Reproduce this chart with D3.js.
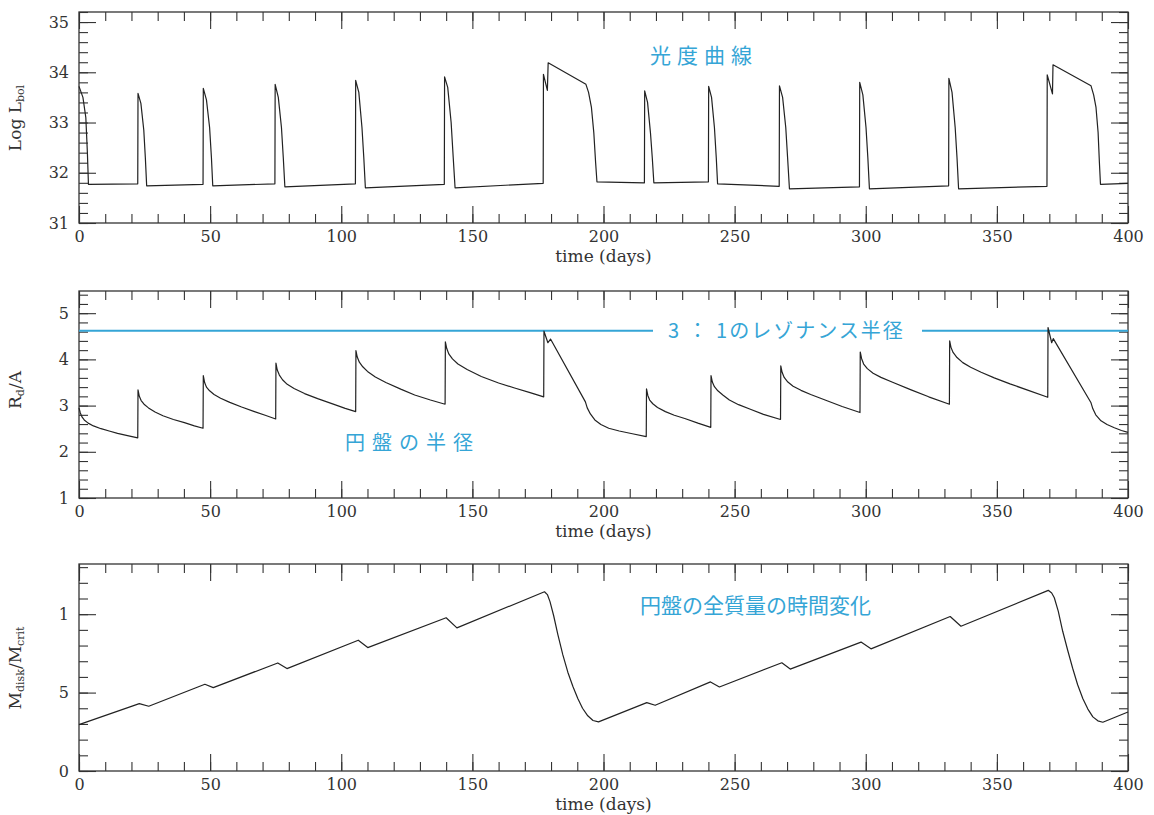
<!DOCTYPE html>
<meta charset="utf-8">
<head>
    <title>Outburst light curve, disk radius and disk mass</title>
</head>
<style>
    body { margin: 0; background: #fff; }
    .axis text { font-family: "DejaVu Serif", serif; font-size: 16px; fill: #333; }
    .axis line { stroke: #333; stroke-width: 1.1; }
    .axis path { display: none; }
    .frame { fill: none; stroke: #333; stroke-width: 1.3; }
    .curve { fill: none; stroke: #222; stroke-width: 1.2; stroke-linejoin: round; }
    .xtitle, .ytitle { font-family: "DejaVu Serif", serif; font-size: 17px; fill: #333; }
    .note { font-family: "Noto Sans CJK JP", sans-serif; fill: #35a5d6; }
</style>
<body>
<svg width="1154" height="815"></svg>

<script src="https://cdnjs.cloudflare.com/ajax/libs/d3/7.8.5/d3.min.js"></script>
<script>
// time axis (days)
var timeTicks = [0, 50, 100, 150, 200, 250, 300, 350, 400]

// panel 1: log of bolometric luminosity, [day, value]
var lightCurve = [
    [0, 33.72], [1.5, 33.5], [2.6, 33.1], [3.2, 32.4], [3.6, 31.77],
    [22.4, 31.78], [22.5, 33.58], [23.6, 33.38], [24.7, 32.85], [25.3, 32.3], [25.8, 31.74],
    [47.3, 31.77], [47.4, 33.68], [48.6, 33.45], [49.8, 32.9], [50.5, 32.3], [51.0, 31.74],
    [74.7, 31.78], [74.8, 33.76], [76.0, 33.5], [77.2, 32.9], [77.9, 32.3], [78.5, 31.72],
    [105.4, 31.78], [105.5, 33.84], [106.7, 33.6], [107.9, 32.9], [108.6, 32.3], [109.2, 31.70],
    [139.3, 31.77], [139.4, 33.91], [140.6, 33.7], [141.9, 33.0], [142.7, 32.3], [143.4, 31.70],
    [177.0, 31.79], [177.1, 33.96], [178.6, 33.64], [178.9, 34.19], [193.3, 33.76], [194.3, 33.6],
    [195.4, 33.3], [196.3, 32.8], [197.0, 32.2], [197.5, 31.82],
    [215.6, 31.80], [215.7, 33.63], [216.8, 33.4], [217.9, 32.8], [218.6, 32.3], [219.2, 31.80],
    [240.0, 31.82], [240.1, 33.72], [241.2, 33.5], [242.3, 32.9], [243.0, 32.3], [243.5, 31.78],
    [267.0, 31.73], [267.1, 33.73], [268.3, 33.5], [269.5, 32.9], [270.2, 32.3], [270.9, 31.68],
    [297.6, 31.72], [297.7, 33.80], [298.9, 33.55], [300.1, 32.9], [300.8, 32.3], [301.4, 31.68],
    [331.6, 31.74], [331.7, 33.88], [332.9, 33.6], [334.1, 32.9], [334.8, 32.3], [335.4, 31.68],
    [369.1, 31.73], [369.2, 33.95], [371.2, 33.57], [371.4, 34.15], [385.9, 33.73], [386.9, 33.55],
    [387.8, 33.3], [388.6, 32.8], [389.1, 32.2], [389.5, 31.77], [400, 31.79]
]
var lumTicks = [31, 32, 33, 34, 35]

// panel 2: disk radius R_d/A, [day, value]
var diskRadius = [
    [0, 2.95], [0.5, 2.84], [1.2, 2.75], [2.0, 2.69], [3.5, 2.62], [5.5, 2.56], [8.4, 2.50],
    [11.5, 2.45], [14.7, 2.40], [18.5, 2.35], [22.4, 2.30],
    [22.5, 3.34], [23.0, 3.20], [23.7, 3.11], [24.8, 3.03], [26.5, 2.95], [29, 2.86], [32, 2.78],
    [36, 2.70], [40.2, 2.63], [44, 2.56], [47.3, 2.51],
    [47.4, 3.65], [47.9, 3.50], [48.6, 3.40], [49.8, 3.32], [51.5, 3.24], [54, 3.16], [57.5, 3.07],
    [62, 2.97], [66.9, 2.87], [71, 2.79], [75, 2.71],
    [75.1, 3.92], [75.6, 3.77], [76.4, 3.66], [77.6, 3.56], [79.4, 3.46], [82, 3.37], [86, 3.26],
    [91, 3.15], [97.5, 3.02], [101.5, 2.94], [105.5, 2.87],
    [105.6, 4.19], [106.1, 4.05], [106.9, 3.94], [108.2, 3.84], [110, 3.74], [113, 3.62], [117, 3.50],
    [122.9, 3.35], [128, 3.23], [134, 3.12], [139.6, 3.03],
    [139.7, 4.38], [140.2, 4.24], [141.0, 4.12], [142.4, 4.01], [144.5, 3.90], [148, 3.78],
    [153.4, 3.63], [160, 3.49], [166.1, 3.38], [172, 3.28], [177.2, 3.19],
    [177.3, 4.61], [178.8, 4.36], [179.8, 4.44], [193.1, 3.08], [193.8, 2.95], [195.0, 2.82],
    [196.7, 2.69], [199, 2.59], [202, 2.51], [206, 2.45], [211, 2.39], [216.3, 2.33],
    [216.4, 3.36], [216.9, 3.22], [217.6, 3.12], [218.8, 3.04], [220.6, 2.96], [223.6, 2.87],
    [227, 2.79], [231, 2.72], [236, 2.62], [240.9, 2.53],
    [241.0, 3.65], [241.5, 3.51], [242.3, 3.41], [243.6, 3.32], [245.5, 3.23], [248, 3.12],
    [251.5, 3.02], [256, 2.92], [261, 2.81], [267.5, 2.70],
    [267.6, 3.86], [268.1, 3.72], [268.9, 3.61], [270.3, 3.51], [272.3, 3.42], [275.3, 3.33],
    [279, 3.24], [284.5, 3.12], [291, 2.98], [297.8, 2.85],
    [297.9, 4.16], [298.4, 4.02], [299.2, 3.90], [300.6, 3.80], [302.8, 3.70], [305.8, 3.61],
    [310, 3.51], [317.3, 3.34], [324, 3.19], [331.9, 3.03],
    [332.0, 4.40], [332.5, 4.26], [333.3, 4.15], [334.8, 4.04], [337, 3.93], [340, 3.83],
    [344, 3.72], [349, 3.60], [355, 3.47], [362, 3.33], [369.4, 3.18],
    [369.5, 4.69], [370.9, 4.36], [371.5, 4.45], [385.9, 3.06], [386.6, 2.93], [387.7, 2.80],
    [389.7, 2.67], [392, 2.59], [394.8, 2.52], [397.5, 2.46], [400, 2.42]
]
var resonanceRadius = 4.62
var radiusTicks = [1, 2, 3, 4, 5]

// panel 3: disk mass M_disk/M_crit, [day, value]
var diskMass = [
    [0, 0.296], [23.0, 0.43], [26.6, 0.413], [48.0, 0.553], [51.2, 0.532], [75.8, 0.689],
    [79.3, 0.653], [106.5, 0.834], [110.1, 0.787], [140.0, 0.977], [144.1, 0.913],
    [177.5, 1.143], [178.6, 1.125], [179.6, 1.08], [181.0, 0.99], [182.6, 0.87], [184.5, 0.74],
    [186.4, 0.630], [188.3, 0.54], [190.2, 0.462], [192.0, 0.40], [194.0, 0.352], [196.0, 0.322],
    [198.1, 0.313], [216.5, 0.436], [219.7, 0.419], [240.8, 0.568],
    [244.2, 0.536], [268.0, 0.690], [271.2, 0.650], [298.2, 0.822], [302.0, 0.779],
    [332.2, 0.985], [336.3, 0.923], [369.6, 1.152], [370.9, 1.135], [371.9, 1.105], [373.4, 1.02],
    [375.1, 0.891], [377.0, 0.77], [378.9, 0.655], [380.8, 0.55], [382.8, 0.461], [384.7, 0.395],
    [386.6, 0.345], [388.5, 0.320], [390.4, 0.311], [400, 0.376]
]
var massTicks = [0, 0.5, 1]
var massTickLabels = ['0', '5', '1']

var svg = d3.select('svg')
var left = 79, right = 1128

var x = d3.scaleLinear().domain([0, 400]).range([left, right])

// draws a boxed panel with inward ticks on all four sides
function panel(top, bottom, yDomain, yTicks, yMinorStep, yLabels) {
    var y = d3.scaleLinear().domain(yDomain).range([bottom, top])
    var g = svg.append('g')
    var yMinor = d3.range(yDomain[0], yDomain[1] + 1e-9, yMinorStep)
    var xMinor = d3.range(0, 401, 10)

    g.append('g').attr('class', 'axis').attr('transform', 'translate(0,' + bottom + ')')
        .call(d3.axisBottom(x).tickValues(xMinor).tickSize(-9).tickFormat(''))
    g.append('g').attr('class', 'axis').attr('transform', 'translate(0,' + bottom + ')')
        .call(d3.axisBottom(x).tickValues(timeTicks).tickSize(-17).tickPadding(8))
    g.append('g').attr('class', 'axis').attr('transform', 'translate(0,' + top + ')')
        .call(d3.axisTop(x).tickValues(xMinor).tickSize(-9).tickFormat(''))
    g.append('g').attr('class', 'axis').attr('transform', 'translate(0,' + top + ')')
        .call(d3.axisTop(x).tickValues(timeTicks).tickSize(-17).tickFormat(''))

    g.append('g').attr('class', 'axis').attr('transform', 'translate(' + left + ',0)')
        .call(d3.axisLeft(y).tickValues(yMinor).tickSize(-9).tickFormat(''))
    g.append('g').attr('class', 'axis').attr('transform', 'translate(' + left + ',0)')
        .call(d3.axisLeft(y).tickValues(yTicks).tickSize(-17).tickPadding(10)
            .tickFormat(function (d, i) { return yLabels ? yLabels[i] : d }))
    g.append('g').attr('class', 'axis').attr('transform', 'translate(' + right + ',0)')
        .call(d3.axisRight(y).tickValues(yMinor).tickSize(-9).tickFormat(''))
    g.append('g').attr('class', 'axis').attr('transform', 'translate(' + right + ',0)')
        .call(d3.axisRight(y).tickValues(yTicks).tickSize(-17).tickFormat(''))

    g.append('rect').attr('class', 'frame')
        .attr('x', left).attr('y', top)
        .attr('width', right - left).attr('height', bottom - top)

    g.append('text').attr('class', 'xtitle')
        .attr('x', (left + right) / 2).attr('y', bottom + 39)
        .attr('text-anchor', 'middle')
        .text('time (days)')

    return { g: g, y: y }
}

function ytitle(cy, parts) {
    var t = svg.append('text').attr('class', 'ytitle')
        .attr('transform', 'translate(21,' + cy + ') rotate(-90)')
        .attr('text-anchor', 'middle')
    parts.forEach(function (p) {
        var s = t.append('tspan').text(p[0])
        if (p[1]) s.attr('font-size', 11).attr('baseline-shift', '-25%')
    })
}

var line = function (y) {
    return d3.line()
        .x(function (d) { return x(d[0]) }).y(function (d) { return y(d[1]) })
}

// --- panel 1
var p1 = panel(12, 223, [31, 35.2], lumTicks, 0.2)
p1.g.append('path').datum(lightCurve).attr('class', 'curve').attr('d', line(p1.y))
ytitle(118, [['Log L'], ['bol', true]])
svg.append('text').attr('class', 'note')
    .attr('x', 650).attr('y', 63).attr('font-size', 21).attr('letter-spacing', 6)
    .text('光度曲線')

// --- panel 2
var p2 = panel(291, 498, [1, 5.48], radiusTicks, 0.2)
p2.g.append('line')
    .attr('x1', x(0)).attr('x2', 653)
    .attr('y1', p2.y(resonanceRadius)).attr('y2', p2.y(resonanceRadius))
    .attr('stroke', '#35a5d6').attr('stroke-width', 2)
p2.g.append('line')
    .attr('x1', 922).attr('x2', x(400))
    .attr('y1', p2.y(resonanceRadius)).attr('y2', p2.y(resonanceRadius))
    .attr('stroke', '#35a5d6').attr('stroke-width', 2)
p2.g.append('path').datum(diskRadius).attr('class', 'curve').attr('d', line(p2.y))
ytitle(390, [['R'], ['d', true], ['/A']])
svg.append('text').attr('class', 'note')
    .attr('x', 668).attr('y', p2.y(resonanceRadius) + 7).attr('font-size', 20).attr('letter-spacing', 2)
    .text('3 ： 1のレゾナンス半径')
svg.append('text').attr('class', 'note')
    .attr('x', 345).attr('y', 450).attr('font-size', 20).attr('letter-spacing', 7)
    .text('円盤の半径')

// --- panel 3
var p3 = panel(564, 771, [0, 1.32], massTicks, 0.1, massTickLabels)
p3.g.append('path').datum(diskMass).attr('class', 'curve').attr('d', line(p3.y))
ytitle(668, [['M'], ['disk', true], ['/M'], ['crit', true]])
svg.append('text').attr('class', 'note')
    .attr('x', 640).attr('y', 613).attr('font-size', 21)
    .text('円盤の全質量の時間変化')
</script>
</body>
</html>
